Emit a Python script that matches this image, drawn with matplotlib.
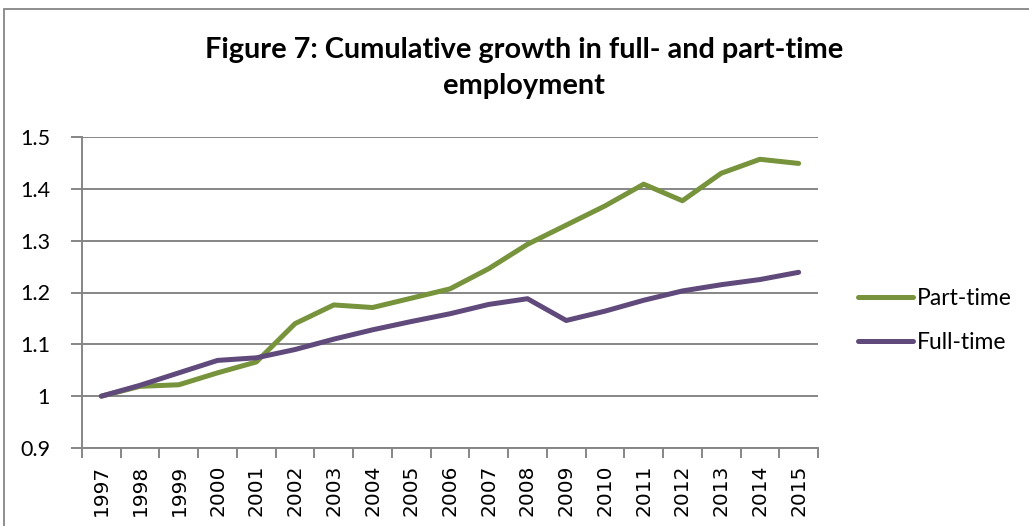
import matplotlib.pyplot as plt
from matplotlib.patches import Rectangle
from matplotlib.ticker import FixedLocator, NullFormatter

years = [str(y) for y in range(1997, 2016)]
part_time = [1.000, 1.019, 1.022, 1.045, 1.066, 1.140, 1.176, 1.171, 1.189, 1.207,
             1.246, 1.293, 1.330, 1.367, 1.409, 1.377, 1.430, 1.457, 1.449]
full_time = [1.000, 1.021, 1.045, 1.069, 1.074, 1.090, 1.110, 1.128, 1.144, 1.159,
             1.177, 1.188, 1.146, 1.164, 1.185, 1.203, 1.215, 1.225, 1.239]
yticks = [0.9, 1.0, 1.1, 1.2, 1.3, 1.4, 1.5]
ytick_labels = ["0.9", "1", "1.1", "1.2", "1.3", "1.4", "1.5"]

green = "#77933c"
purple = "#604a7b"
grey = "#868686"
font = "Lato"

W, H = 1029, 526
fig = plt.figure(figsize=(W / 100, H / 100), dpi=100)

# chart border (runs off the right and bottom edges)
fig.patches.append(Rectangle((4 / W, -0.1), 1.2, 1 - 9 / H + 0.1, transform=fig.transFigure,
                             fill=False, edgecolor=grey, linewidth=1.3))

ax = fig.add_axes([82 / W, 1 - 448 / H, (818 - 82) / W, (448 - 137) / H])

x = list(range(len(years)))
ax.plot(x, part_time, color=green, linewidth=3.6, solid_capstyle="round", label="Part-time")
ax.plot(x, full_time, color=purple, linewidth=3.6, solid_capstyle="round", label="Full-time")

ax.set_xlim(-0.5, len(years) - 0.5)
ax.set_ylim(0.9, 1.5)

ax.set_yticks(yticks)
ax.set_yticklabels(ytick_labels, fontfamily=font, fontsize=15.5)
ax.yaxis.grid(True, color=grey, linewidth=1.4)
ax.set_axisbelow(True)

ax.set_xticks(x)
ax.set_xticklabels(years, rotation=90, fontfamily="DejaVu Sans", fontsize=14.5)
ax.xaxis.set_minor_locator(FixedLocator([i - 0.5 for i in range(len(years) + 1)]))
ax.xaxis.set_minor_formatter(NullFormatter())
ax.tick_params(axis="x", which="major", length=0, pad=12)
ax.tick_params(axis="x", which="minor", length=7, width=1.4, color=grey, direction="out")
ax.tick_params(axis="y", length=8, width=1.4, color=grey, direction="out", pad=15)

for side in ["top", "right"]:
    ax.spines[side].set_visible(False)
for side in ["left", "bottom"]:
    ax.spines[side].set_color(grey)
    ax.spines[side].set_linewidth(1.4)

leg = ax.legend(loc="center left", bbox_to_anchor=(1.027, 0.41), frameon=False,
                prop={"family": font, "size": 16.5}, handlelength=2.4, handletextpad=0.15,
                labelspacing=1.0)

fig.text(524 / W, 1 - 50 / H, "Figure 7: Cumulative growth in full- and part-time",
         ha="center", va="center", fontfamily=font, fontweight="bold", fontsize=20.8)
fig.text(524 / W, 1 - 86 / H, "employment",
         ha="center", va="center", fontfamily=font, fontweight="bold", fontsize=20.8)

fig.savefig("out.png", dpi=100)
